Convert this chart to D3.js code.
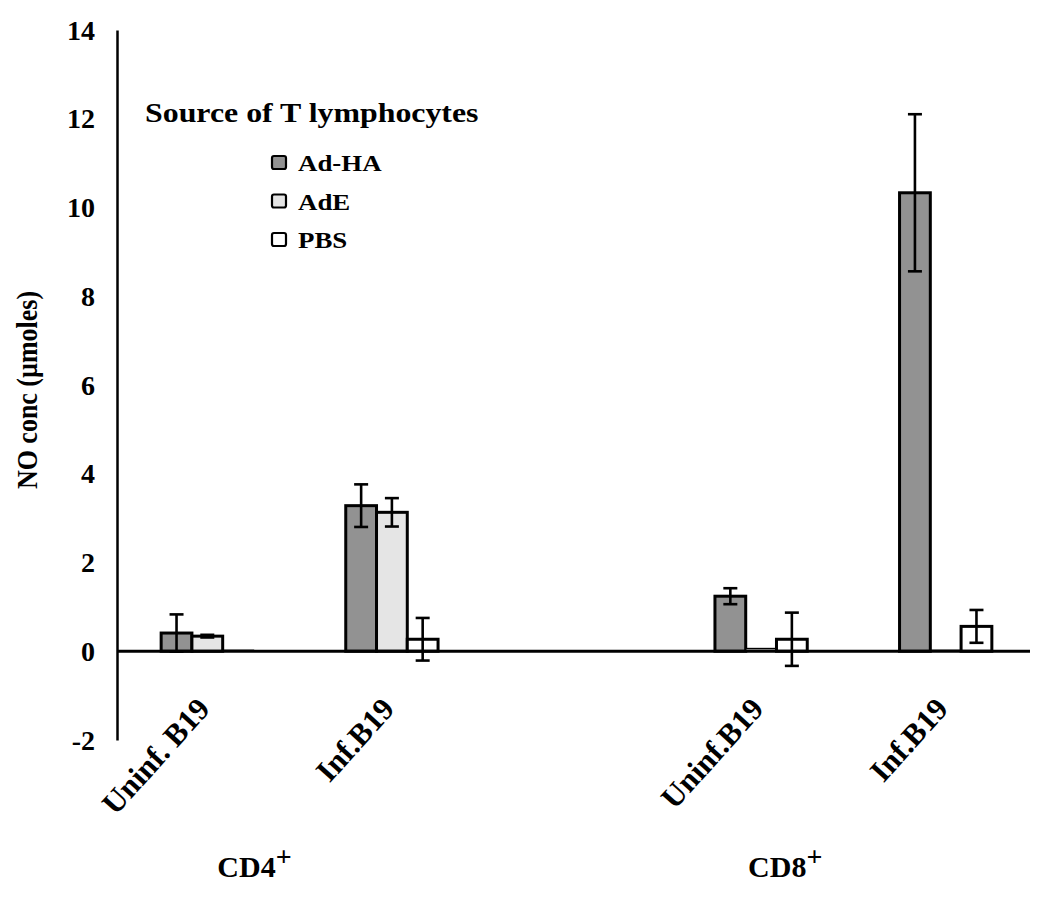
<!DOCTYPE html>
<html>
<head>
<meta charset="utf-8">
<script src="https://cdn.jsdelivr.net/npm/d3@7"></script>
<style>
  body { margin: 0; background: #fff; }
  text { font-family: "Liberation Serif", "Times New Roman", serif; font-weight: bold; fill: #000; }
</style>
</head>
<body>
<div class="bar-chart"></div>
<script>
// data
const categories = ['Uninf. B19', 'Inf.B19', 'Uninf.B19', 'Inf.B19'];
const cellTypes = ['CD4', 'CD8'];
const series = ['Ad-HA', 'AdE', 'PBS'];

const adHA = [0.41, 3.28, 1.24, 10.33];
const adHAErr = [0.42, 0.48, 0.18, 1.77];
const adE = [0.34, 3.13, 0.06, 0.02];
const adEErr = [0.03, 0.32, 0, 0];
const pbs = [0.02, 0.27, 0.27, 0.56];
const pbsErr = [0, 0.48, 0.6, 0.37];

const yTicks = [-2, 0, 2, 4, 6, 8, 10, 12, 14];
const legendTitle = 'Source of T lymphocytes';
const yTitle = 'NO conc (\u00b5moles)';

const colors = ['#929292', '#e5e5e5', '#ffffff'];

const svgWidth = 1050;
const svgHeight = 899;

const values = [adHA, adE, pbs];
const errors = [adHAErr, adEErr, pbsErr];

// slots along x: two per cell type with an empty slot between the groups
const slots = [0, 1, 'gap', 2, 3];

const svg = d3.select('.bar-chart').append('svg')
  .attr('width', svgWidth)
  .attr('height', svgHeight);

const x0 = d3.scaleBand()
  .domain(slots)
  .range([115, 1038])
  .paddingInner(0.5)
  .paddingOuter(0.25);

const x1 = d3.scaleBand()
  .domain(series)
  .range([0, x0.bandwidth()]);

const y = d3.scaleLinear()
  .domain([-2, 14])
  .range([740, 29.9]);

const axisX = 117;

// y axis
const yAxis = svg.append('g')
  .attr('transform', `translate(${axisX},0)`)
  .call(d3.axisLeft(y)
    .tickValues(yTicks)
    .tickFormat((d) => String(d))
    .tickSizeInner(0)
    .tickSizeOuter(0)
    .tickPadding(22));
yAxis.select('.domain').attr('stroke', '#000').attr('stroke-width', 2.5);
yAxis.selectAll('text')
  .attr('font-size', 28)
  .attr('font-family', '"Liberation Serif", serif')
  .attr('font-weight', 'bold')
  .attr('dy', '0.33em');

svg.append('text')
  .attr('transform', `translate(37,390) scale(1.15,1) rotate(-90)`)
  .attr('text-anchor', 'middle')
  .attr('font-size', 26)
  .text(yTitle);

// bars
const rows = [];
categories.forEach((c, i) => {
  series.forEach((s, j) => {
    rows.push({ cat: i, series: s, idx: j, value: values[j][i], err: errors[j][i] });
  });
});

const bars = svg.append('g');
bars.selectAll('rect')
  .data(rows)
  .enter().append('rect')
  .attr('x', (d) => x0(d.cat) + x1(d.series))
  .attr('y', (d) => y(Math.max(0, d.value)))
  .attr('width', x1.bandwidth())
  .attr('height', (d) => Math.abs(y(d.value) - y(0)))
  .attr('fill', (d) => colors[d.idx])
  .attr('stroke', '#000')
  .attr('stroke-width', (d) => (d.value < 0.1 ? 1.5 : 3));

// zero line
svg.append('line')
  .attr('x1', axisX)
  .attr('x2', 1030)
  .attr('y1', y(0))
  .attr('y2', y(0))
  .attr('stroke', '#000')
  .attr('stroke-width', 3);

// error bars
const capHalf = 7;
const errRows = rows.filter((d) => d.err > 0);
const err = svg.append('g')
  .attr('stroke', '#000')
  .attr('stroke-width', 2.6);
errRows.forEach((d) => {
  const cx = x0(d.cat) + x1(d.series) + x1.bandwidth() / 2;
  const top = y(d.value + d.err);
  const bot = y(d.value - d.err);
  err.append('line').attr('x1', cx).attr('x2', cx).attr('y1', top).attr('y2', bot);
  err.append('line').attr('x1', cx - capHalf).attr('x2', cx + capHalf).attr('y1', top).attr('y2', top);
  err.append('line').attr('x1', cx - capHalf).attr('x2', cx + capHalf).attr('y1', bot).attr('y2', bot);
});

// category labels
svg.append('g').selectAll('text')
  .data(categories)
  .enter().append('text')
  .attr('text-anchor', 'end')
  .attr('font-size', 31)
  .attr('transform', (d, i) => `translate(${x0(i) + x0.bandwidth() / 2 + 4},710) rotate(-48)`)
  .text((d) => d);

// cell type labels
const groupOffset = [10, -13];
cellTypes.forEach((t, g) => {
  const first = g * 2;
  const lbl = svg.append('text')
    .attr('x', x0(first) + x0.bandwidth() / 2 + groupOffset[g])
    .attr('y', 877)
    .attr('font-size', 30)
    .text(t);
  lbl.append('tspan')
    .attr('dy', -11)
    .attr('font-size', 28)
    .text('+');
});

// legend
svg.append('text')
  .attr('transform', 'translate(145,122) scale(1.18,1)')
  .attr('font-size', 27)
  .text(legendTitle);

const legend = svg.append('g');
series.forEach((s, j) => {
  const base = 171 + j * 38.5;
  legend.append('rect')
    .attr('x', 272)
    .attr('y', base - 15)
    .attr('width', 14)
    .attr('height', 13)
    .attr('rx', 2)
    .attr('fill', colors[j])
    .attr('stroke', '#000')
    .attr('stroke-width', 2.2);
  legend.append('text')
    .attr('transform', `translate(298,${base}) scale(1.12,1)`)
    .attr('font-size', 24)
    .text(s);
});
</script>
</body>
</html>
